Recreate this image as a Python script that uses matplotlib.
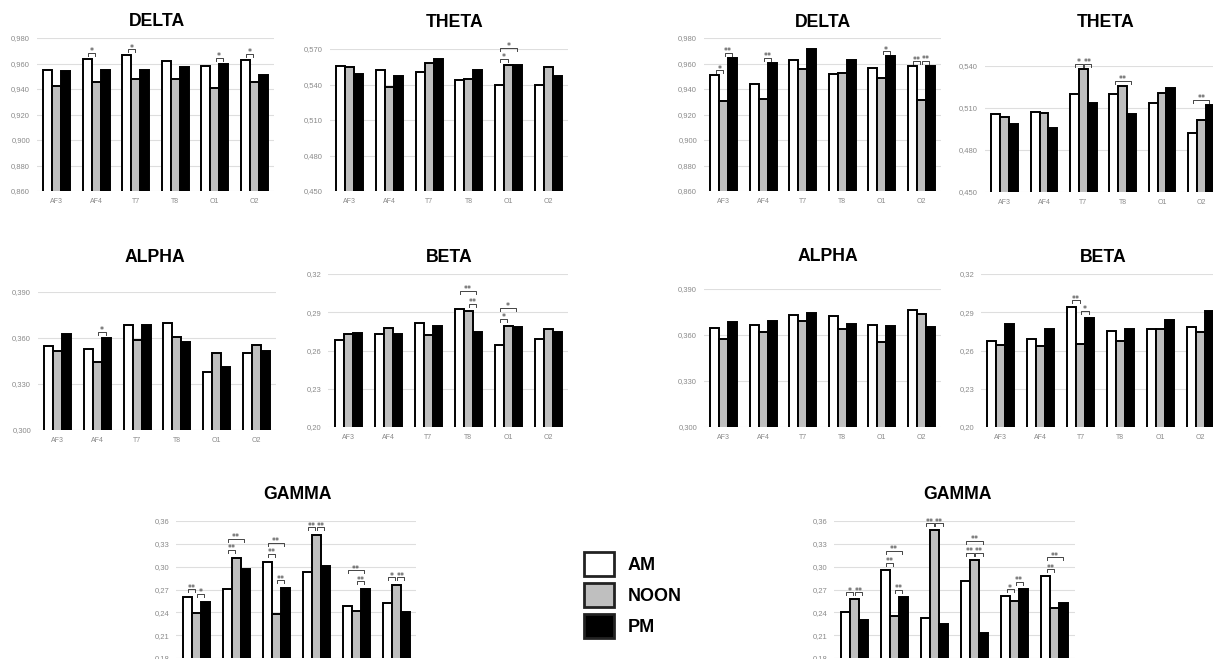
import matplotlib.pyplot as plt
from matplotlib.patches import Patch

W, H = 1213, 659

channels = ["AF3", "AF4", "T7", "T8", "O1", "O2"]
sessions = ["AM", "NOON", "PM"]
colors = ["white", "#bfbfbf", "black"]

# rows: AM, NOON, PM / columns: channels  (first group = left, second = right)
delta_a = [[0.9547, 0.9638, 0.9664, 0.9623, 0.9578, 0.9630],
           [0.9424, 0.9456, 0.9479, 0.9479, 0.9411, 0.9453],
           [0.9539, 0.9552, 0.9552, 0.9573, 0.9597, 0.9508]]
theta_a = [[0.5559, 0.5519, 0.5502, 0.5440, 0.5392, 0.5395],
           [0.5545, 0.5378, 0.5581, 0.5446, 0.5564, 0.5548],
           [0.5491, 0.5468, 0.5618, 0.5519, 0.5564, 0.5474]]
alpha_a = [[0.3549, 0.3531, 0.3685, 0.3698, 0.3377, 0.3499],
           [0.3516, 0.3445, 0.3590, 0.3607, 0.3503, 0.3557],
           [0.3625, 0.3603, 0.3687, 0.3575, 0.3410, 0.3516]]
beta_a = [[0.2685, 0.2729, 0.2816, 0.2928, 0.2646, 0.2690],
          [0.2729, 0.2774, 0.2724, 0.2910, 0.2792, 0.2771],
          [0.2737, 0.2729, 0.2795, 0.2742, 0.2784, 0.2745]]
gamma_a = [[0.2597, 0.2702, 0.3066, 0.2930, 0.2487, 0.2522],
           [0.2391, 0.3114, 0.2382, 0.3412, 0.2413, 0.2755],
           [0.2536, 0.2974, 0.2715, 0.3010, 0.2702, 0.2404]]

delta_b = [[0.9508, 0.9443, 0.9625, 0.9521, 0.9568, 0.9578],
           [0.9307, 0.9325, 0.9555, 0.9526, 0.9490, 0.9312],
           [0.9643, 0.9607, 0.9711, 0.9625, 0.9657, 0.9583]]
theta_b = [[0.5054, 0.5073, 0.5197, 0.5199, 0.5133, 0.4925],
           [0.5037, 0.5066, 0.5379, 0.5259, 0.5204, 0.5013],
           [0.4985, 0.4958, 0.5133, 0.5059, 0.5245, 0.5121]]
alpha_b = [[0.3646, 0.3667, 0.3733, 0.3726, 0.3665, 0.3761],
           [0.3576, 0.3622, 0.3689, 0.3637, 0.3554, 0.3735],
           [0.3683, 0.3693, 0.3743, 0.3672, 0.3659, 0.3652]]
beta_b = [[0.2677, 0.2693, 0.2939, 0.2753, 0.2766, 0.2784],
          [0.2643, 0.2632, 0.2654, 0.2672, 0.2766, 0.2742],
          [0.2808, 0.2769, 0.2855, 0.2766, 0.2842, 0.2910]]
gamma_b = [[0.2404, 0.2961, 0.2321, 0.2813, 0.2610, 0.2874],
           [0.2573, 0.2348, 0.3477, 0.3093, 0.2549, 0.2453],
           [0.2295, 0.2602, 0.2251, 0.2133, 0.2707, 0.2527]]

# significance brackets: (channel, bar from, bar to, stars, level)
delta_a_sig = [(1, 0, 1, "*", 0), (2, 0, 1, "*", 0), (4, 1, 2, "*", 0), (5, 0, 1, "*", 0)]
theta_a_sig = [(4, 0, 1, "*", 0), (4, 0, 2, "*", 1)]
alpha_a_sig = [(1, 1, 2, "*", 0)]
beta_a_sig = [(3, 1, 2, "**", 0), (3, 0, 2, "**", 1), (4, 0, 1, "*", 0), (4, 0, 2, "*", 1)]
gamma_a_sig = [(0, 0, 1, "**", 0), (0, 1, 2, "*", 0), (1, 0, 1, "**", 0), (1, 0, 2, "**", 1),
               (2, 0, 1, "**", 0), (2, 0, 2, "**", 1), (2, 1, 2, "**", 0), (3, 0, 1, "**", 0),
               (3, 1, 2, "**", 0), (4, 1, 2, "**", 0), (4, 0, 2, "**", 1), (5, 0, 1, "*", 0),
               (5, 1, 2, "**", 0)]

delta_b_sig = [(0, 0, 1, "*", 0), (0, 1, 2, "**", 0), (1, 1, 2, "**", 0), (4, 1, 2, "*", 0),
               (5, 0, 1, "**", 0), (5, 1, 2, "**", 0)]
theta_b_sig = [(2, 0, 1, "*", 0), (2, 1, 2, "**", 0), (3, 0, 2, "**", 0), (5, 0, 2, "**", 0)]
alpha_b_sig = []
beta_b_sig = [(2, 0, 1, "**", 0), (2, 1, 2, "*", 0)]
gamma_b_sig = [(0, 0, 1, "*", 0), (0, 1, 2, "**", 0), (1, 0, 1, "**", 0), (1, 0, 2, "**", 1),
               (1, 1, 2, "**", 0), (2, 0, 1, "**", 0), (2, 1, 2, "**", 0), (3, 0, 1, "**", 0),
               (3, 1, 2, "**", 0), (3, 0, 2, "**", 1), (4, 0, 1, "*", 0), (4, 1, 2, "**", 0),
               (5, 0, 1, "**", 0), (5, 0, 2, "**", 1)]

BW = 0.225
FONT = "Liberation Sans"


def panel(fig, box, ylim, step, dec, data, sig, title, title_xy, gap=6, lev=11, xlabels=True):
    left, right, top, bottom = box
    ax = fig.add_axes([left / W, 1 - bottom / H, (right - left) / W, (bottom - top) / H])
    x = list(range(len(channels)))
    for k in range(3):
        ax.bar([i + (k - 1) * BW for i in x], data[k], width=BW, bottom=0,
               color=colors[k], edgecolor="black", linewidth=1.4, zorder=3)
    ax.set_xlim(-0.5, len(channels) - 0.5)
    ax.set_ylim(*ylim)
    n = int(round((ylim[1] - ylim[0]) / step))
    ticks = [ylim[0] + i * step for i in range(n + 1)]
    ax.set_yticks(ticks)
    ax.set_yticklabels([f"{t:.{dec}f}".replace(".", ",") for t in ticks],
                       fontsize=5.5, color="#8a8a8a", family=FONT)
    ax.set_xticks(x)
    if xlabels:
        ax.set_xticklabels(channels, fontsize=5, color="#8a8a8a", family=FONT)
    else:
        # the channel names of the bottom row fall below the picture edge
        ax.set_xticklabels([])
    ax.tick_params(length=0, axis="y", pad=5)
    ax.tick_params(length=0, axis="x", pad=5)
    for s in ax.spines.values():
        s.set_visible(False)
    ax.yaxis.grid(True, color="#dedede", linewidth=0.8, zorder=0)
    ax.set_axisbelow(True)

    per_px = (ylim[1] - ylim[0]) / (bottom - top)
    for ch, a, b, stars, level in sig:
        xa = ch + (a - 1) * BW + 0.02
        xb = ch + (b - 1) * BW - 0.02
        topv = max(data[k][ch] for k in range(a, b + 1))
        y = topv + (gap + level * lev) * per_px
        t = 3 * per_px
        ax.plot([xa, xa, xb, xb], [y - t, y, y, y - t], color="#444444",
                linewidth=0.7, clip_on=False, zorder=4)
        ax.annotate(stars, ((xa + xb) / 2, y), xytext=(0, -1.0),
                    textcoords="offset points", ha="center", va="baseline",
                    fontsize=5.8, color="#333333", annotation_clip=False)

    fig.text(title_xy[0] / W, 1 - (title_xy[1] + 6.3) / H, title, ha="center",
             va="baseline", fontsize=12.7, fontweight="bold", family=FONT)
    return ax


def main():
    fig = plt.figure(figsize=(W / 100, H / 100), dpi=100)

    panel(fig, (37, 274, 38, 191), (0.86, 0.98), 0.02, 3, delta_a, delta_a_sig, "DELTA", (157, 20))
    panel(fig, (330, 568, 49, 191), (0.45, 0.57), 0.03, 3, theta_a, theta_a_sig, "THETA", (455, 21))
    panel(fig, (704, 941, 38, 191), (0.86, 0.98), 0.02, 3, delta_b, delta_b_sig, "DELTA", (823, 21),
          gap=5)
    panel(fig, (985, 1221, 66, 192), (0.45, 0.54), 0.03, 3, theta_b, theta_b_sig, "THETA", (1106, 21),
          gap=5)

    panel(fig, (38, 276, 292, 430), (0.30, 0.39), 0.03, 3, alpha_a, alpha_a_sig, "ALPHA", (155, 256))
    panel(fig, (328, 568, 274, 427), (0.20, 0.32), 0.03, 2, beta_a, beta_a_sig, "BETA", (449, 256),
          gap=7)
    panel(fig, (704, 941, 289, 427), (0.30, 0.39), 0.03, 3, alpha_b, alpha_b_sig, "ALPHA", (828, 255))
    panel(fig, (981, 1220, 274, 427), (0.20, 0.32), 0.03, 2, beta_b, beta_b_sig, "BETA", (1103, 256),
          gap=7)

    panel(fig, (176, 416, 521, 658), (0.18, 0.36), 0.03, 2, gamma_a, gamma_a_sig, "GAMMA", (297, 493),
          gap=8, lev=11, xlabels=False)
    panel(fig, (834, 1075, 521, 658), (0.18, 0.36), 0.03, 2, gamma_b, gamma_b_sig, "GAMMA", (958, 493),
          gap=7, lev=12, xlabels=False)

    handles = [Patch(facecolor=c, edgecolor="#222222", linewidth=2) for c in colors]
    fig.legend(handles, sessions, loc="upper left", bbox_to_anchor=(584 / W, 1 - 552 / H),
               frameon=False, borderpad=0, borderaxespad=0, handlelength=1.66,
               handleheight=1.66, handletextpad=0.75, labelspacing=0.39,
               prop=dict(family=FONT, weight="bold", size=13))

    fig.savefig("out.png", dpi=100)


if __name__ == "__main__":
    main()
